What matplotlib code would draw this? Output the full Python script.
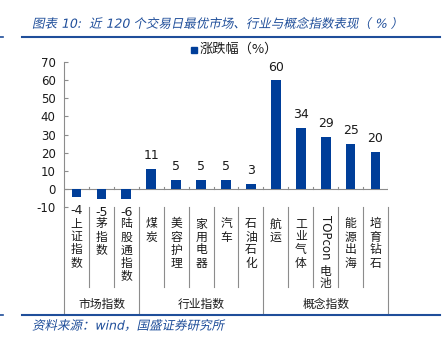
import matplotlib
matplotlib.use("Agg")
import matplotlib.pyplot as plt
from matplotlib.lines import Line2D
from matplotlib.patches import Rectangle, PathPatch
from matplotlib.textpath import TextPath
from matplotlib.font_manager import FontProperties
import matplotlib.transforms as mtransforms

plt.rcParams['font.family'] = ['DejaVu Sans', 'Noto Sans CJK SC']
plt.rcParams['axes.unicode_minus'] = False

# ---- data ----
categories = ["上证指数", "茅指数", "陆股通指数",
              "煤炭", "美容护理", "家用电器", "汽车", "石油石化",
              "航运", "工业气体", "TOPcon电池", "能源出海", "培育钻石"]
values = [-4.4, -5.4, -5.6, 11.0, 4.8, 4.8, 4.8, 2.9, 59.8, 33.6, 28.7, 24.9, 20.1]
groups = ["市场指数", "行业指数", "概念指数"]
group_sizes = [3, 5, 5]
yticks = [-10, 0, 10, 20, 30, 40, 50, 60, 70]

W, H = 447, 338
BLUE = "#003E99"
TITLE_BLUE = "#1F4E9A"
GREY = "#8C8C8C"
TXT = "#1A1A1A"

def fx(px):
    return px / W

def fy(py):
    return 1 - py / H

fig = plt.figure(figsize=(W / 100, H / 100), dpi=100)
ax = fig.add_axes([fx(64), fy(207), fx(388) - fx(64), fy(62) - fy(207)])

x = list(range(len(values)))
ax.bar(x, values, width=0.39, color=BLUE, zorder=3)
ax.set_xlim(-0.5, len(values) - 0.5)
ax.set_ylim(-10, 70)
ax.set_yticks(yticks)
ax.set_yticklabels([str(t) for t in yticks], fontsize=8.5, color=TXT)
ax.tick_params(axis='y', direction='in', length=3, width=0.8, color=GREY, pad=6)
ax.set_xticks([])
for s in ['top', 'right', 'bottom']:
    ax.spines[s].set_visible(False)
ax.spines['left'].set_color(GREY)
ax.spines['left'].set_linewidth(0.8)

# zero line with category boundary ticks
ax.axhline(0, color=GREY, lw=0.8, zorder=2)
for b in range(1, len(values) + 1):
    ax.plot([b - 0.5, b - 0.5], [0, 1.2], color=GREY, lw=0.8, zorder=2)

# value labels
for xi, v in zip(x, values):
    if v >= 0:
        ax.annotate(f"{v:.0f}", (xi, v), xytext=(0, 5), textcoords='offset points',
                    ha='center', va='bottom', fontsize=9, color=TXT)
    else:
        ax.annotate(f"{v:.0f}", (xi, v), xytext=(0, -5), textcoords='offset points',
                    ha='center', va='top', fontsize=9, color=TXT, zorder=5)

# category labels, written vertically
blend = mtransforms.blended_transform_factory(ax.transData, fig.transFigure)
cjk = ['Noto Sans CJK SC']
for xi, name in zip(x, categories):
    if name.startswith("TOPcon"):
        ax.text(xi, fy(215), "TOPcon", rotation=-90, ha='center', va='top',
                fontsize=8.5, color=TXT, transform=blend, family=['DejaVu Sans'])
        for k, ch in enumerate("电池"):
            ax.text(xi, fy(271 + 12.5 * k), ch, ha='center', va='center',
                    fontsize=8.5, color=TXT, transform=blend, family=cjk)
        continue
    for k, ch in enumerate(name):
        ax.text(xi, fy(224 + 13 * k), ch, ha='center', va='center',
                fontsize=8.5, color=TXT, transform=blend, family=cjk)

# separators under the axis
n = len(values)
group_edges = [0]
for s in group_sizes:
    group_edges.append(group_edges[-1] + s)
for b in range(n + 1):
    xb = b - 0.5
    if b in group_edges:
        y0, y1 = fy(207), fy(313)
    else:
        y0, y1 = fy(207), fy(287)
    ax.add_line(Line2D([xb, xb], [y0, y1], transform=blend,
                       color=GREY, lw=0.8, clip_on=False))

for g, (a, b) in zip(groups, zip(group_edges[:-1], group_edges[1:])):
    ax.text((a + b - 1) / 2, fy(304), g, ha='center', va='center',
            fontsize=8.5, color=TXT, transform=blend, family=cjk)

# legend
fig.patches.append(Rectangle((fx(191), fy(53)), fx(6), 6 / H, transform=fig.transFigure,
                             color=BLUE))
fig.text(fx(200), fy(49), "涨跌幅（%）", ha='left', va='center', fontsize=9.5,
         color=TXT, family=cjk)


def slanted_text(px, py, s, size, color):
    """Draw text with an oblique slant (CJK fonts have no italic face)."""
    prop = FontProperties(family=['DejaVu Sans', 'Noto Sans CJK SC'])
    tp = TextPath((0, 0), s, size=size, prop=prop)
    bb = tp.get_extents()
    tr = (mtransforms.Affine2D()
          .translate(0, -(bb.y0 + bb.y1) / 2)
          .skew_deg(12, 0)
          .scale(1 / 72)
          .translate(px / 100, (H - py) / 100)
          + fig.dpi_scale_trans)
    fig.add_artist(PathPatch(tp, transform=tr, facecolor=color, edgecolor='none'))


# title and source
slanted_text(33, 23, "图表 10:  近 120 个交易日最优市场、行业与概念指数表现（ % ）", 9, TITLE_BLUE)
fig.add_artist(Line2D([fx(22), fx(440)], [fy(37), fy(37)], color=TITLE_BLUE, lw=1.5))
fig.add_artist(Line2D([fx(0), fx(3)], [fy(37), fy(37)], color=TITLE_BLUE, lw=1.2))
fig.add_artist(Line2D([fx(22), fx(440)], [fy(315), fy(315)], color=TITLE_BLUE, lw=1.5))
fig.add_artist(Line2D([fx(0), fx(3)], [fy(315), fy(315)], color=TITLE_BLUE, lw=1.2))
slanted_text(33, 325, "资料来源：wind，国盛证券研究所", 9, TITLE_BLUE)

fig.savefig("out.png", dpi=100)
